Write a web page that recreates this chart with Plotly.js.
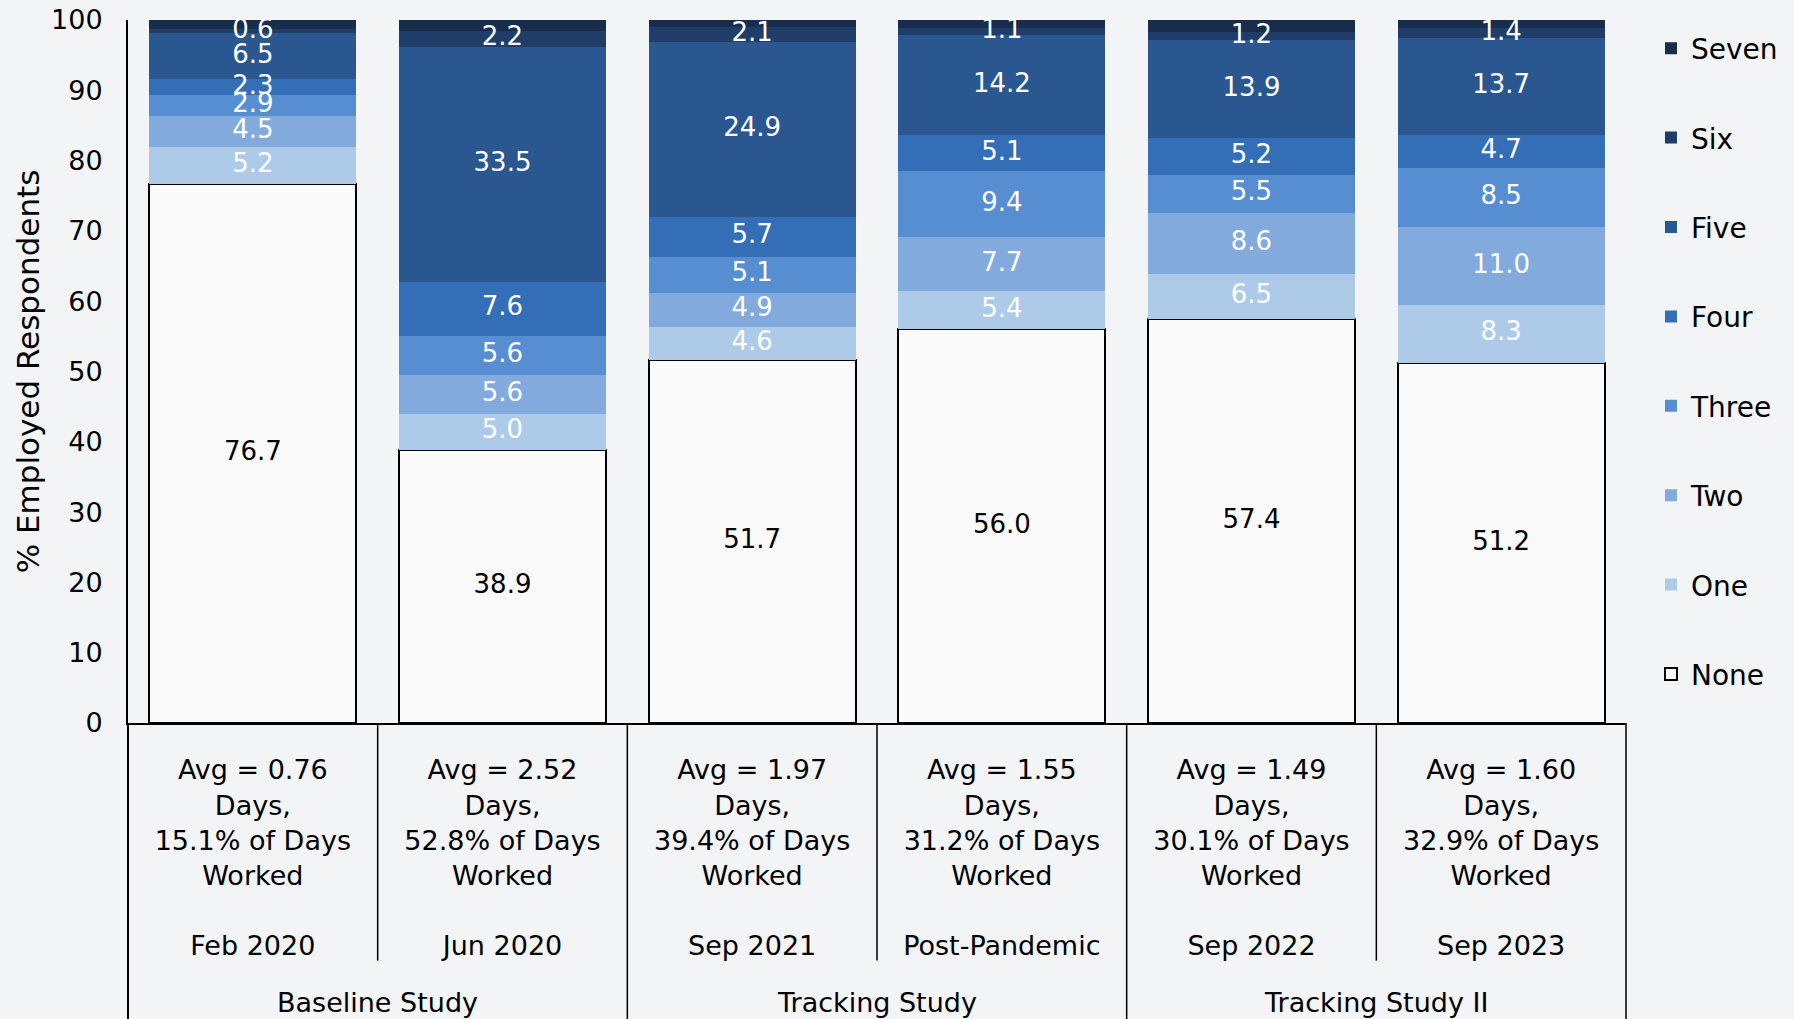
<!DOCTYPE html>
<html>
<head>
<meta charset="utf-8">
<script src="https://cdn.plot.ly/plotly-3.0.1.min.js"></script>
<style>
  html, body { margin: 0; padding: 0; background: #f3f4f5; }
  #chart { width: 1794px; height: 1019px; }
</style>
</head>
<body>
<div id="chart"></div>
<script>
// ---- data ----
const periods = ["Feb 2020", "Jun 2020", "Sep 2021", "Post-Pandemic", "Sep 2022", "Sep 2023"];
const studies = ["Baseline Study", "Baseline Study", "Tracking Study", "Tracking Study", "Tracking Study II", "Tracking Study II"];
const studyNames = ["Baseline Study", "Tracking Study", "Tracking Study II"];
const avgDays = [0.76, 2.52, 1.97, 1.55, 1.49, 1.60];
const pctDaysWorked = [15.1, 52.8, 39.4, 31.2, 30.1, 32.9];

const seriesNames = ["None", "One", "Two", "Three", "Four", "Five", "Six", "Seven"];
const none  = [76.7, 38.9, 51.7, 56.0, 57.4, 51.2];
const one   = [5.2, 5.0, 4.6, 5.4, 6.5, 8.3];
const two   = [4.5, 5.6, 4.9, 7.7, 8.6, 11.0];
const three = [2.9, 5.6, 5.1, 9.4, 5.5, 8.5];
const four  = [2.3, 7.6, 5.7, 5.1, 5.2, 4.7];
const five  = [6.5, 33.5, 24.9, 14.2, 13.9, 13.7];
const six   = [0.6, 2.2, 2.1, 1.1, 1.2, 1.4];
const seven = [1.3, 1.6, 1.0, 1.1, 1.7, 1.2];
const seriesValues = [none, one, two, three, four, five, six, seven];
const labelled = [true, true, true, true, true, true, true, false];

// ---- styles ----
const fillColors = ["rgba(255,255,255,0.55)", "#aecae9", "#83aadd", "#568ed1", "#336eb6", "#2a578f", "#1f3d68", "#182c4b"];
const textColors = ["#000000", "#ffffff", "#ffffff", "#ffffff", "#ffffff", "#ffffff", "#ffffff", "#ffffff"];
const FONT = "DejaVu Sans, Verdana, sans-serif";

const barTraces = seriesNames.map((name, k) => ({
  type: "bar",
  name: name,
  legendgroup: name,
  legendrank: seriesNames.length - k,
  x: periods,
  y: seriesValues[k],
  marker: {
    color: fillColors[k],
    line: { color: "#000000", width: k === 0 ? 2 : 0 }
  },
  hoverinfo: "name+y"
}));

// value labels drawn on top of all bars, at the middle of each stacked segment
const labelTraces = [];
seriesNames.forEach((name, k) => {
  if (!labelled[k]) return;
  const mids = periods.map((p, i) => {
    let base = 0;
    for (let j = 0; j < k; j++) base += seriesValues[j][i];
    return base + seriesValues[k][i] / 2;
  });
  labelTraces.push({
    type: "scatter",
    mode: "text",
    x: periods,
    y: mids,
    text: seriesValues[k].map(v => v.toFixed(1)),
    textposition: "middle center",
    textfont: { family: FONT, size: 26, color: textColors[k] },
    cliponaxis: false,
    showlegend: false,
    hoverinfo: "skip"
  });
});

const tickText = periods.map((p, i) =>
  `Avg = ${avgDays[i].toFixed(2)}<br>Days,<br>${pctDaysWorked[i].toFixed(1)}% of Days<br>Worked<br> <br>${p}`
);

// dividers in the category area
const n = periods.length;
const shapes = [];
for (let i = 0; i <= n; i++) {
  const isGroupEdge = (i === 0 || i === n || studies[i] !== studies[i - 1]);
  shapes.push({
    type: "line", xref: "paper", yref: "paper",
    x0: i / n, x1: i / n, y0: 0, y1: isGroupEdge ? -0.45 : -0.338,
    line: { color: "#000000", width: (i === 0) ? 2 : 1.5 }
  });
}

const annotations = studyNames.map(s => {
  const idx = studies.map((v, i) => v === s ? i : -1).filter(i => i >= 0);
  const center = (idx[0] + idx[idx.length - 1] + 1) / 2 / n;
  return {
    text: s, xref: "paper", yref: "paper", x: center, y: -0.397,
    xanchor: "center", yanchor: "middle", showarrow: false,
    font: { family: FONT, size: 27, color: "#000000" }
  };
});

const layout = {
  width: 1794, height: 1019,
  margin: { l: 128, r: 167, t: 20, b: 296 },
  paper_bgcolor: "#f3f4f5",
  plot_bgcolor: "rgba(0,0,0,0)",
  barmode: "stack",
  bargap: 0.17,
  font: { family: FONT, size: 27, color: "#000000" },
  xaxis: {
    type: "category",
    tickmode: "array",
    tickvals: periods,
    ticktext: tickText,
    ticks: "",
    showline: true, linecolor: "#000000", linewidth: 2,
    showgrid: false, zeroline: false,
    tickfont: { family: FONT, size: 27, color: "#000000" },
    ticklabelstandoff: 22,
    automargin: false
  },
  yaxis: {
    range: [0, 100],
    tickmode: "linear", tick0: 0, dtick: 10,
    ticks: "",
    showline: true, linecolor: "#000000", linewidth: 2,
    showgrid: false, zeroline: false,
    tickfont: { family: FONT, size: 27, color: "#000000" },
    ticklabelstandoff: 18,
    title: { text: "% Employed Respondents", font: { family: FONT, size: 31, color: "#000000" }, standoff: 2 },
    automargin: false
  },
  legend: {
    x: 1.016, xanchor: "left",
    y: 0.995, yanchor: "top",
    traceorder: "grouped",
    tracegroupgap: 50,
    bgcolor: "rgba(0,0,0,0)",
    font: { family: FONT, size: 28, color: "#000000" }
  },
  shapes: shapes,
  annotations: annotations,
  showlegend: true
};

Plotly.newPlot("chart", barTraces.concat(labelTraces), layout, { displayModeBar: false, staticPlot: true });
</script>
</body>
</html>
